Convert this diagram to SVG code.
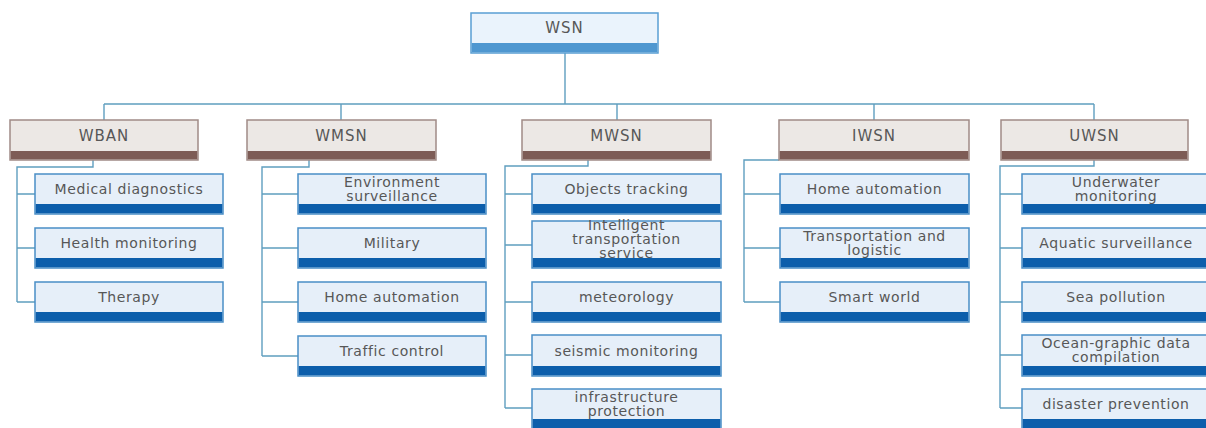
<svg xmlns="http://www.w3.org/2000/svg" width="1206" height="428" viewBox="0 0 1206 428">
  <style>
    text { font-family: "DejaVu Sans", Verdana, sans-serif; font-size: 14px; fill: #575757; text-anchor: middle; letter-spacing: 0.6px; }
    .t1 { font-size: 15px; letter-spacing: 1px; }
    .root-body { fill: #eaf3fc; stroke: #5a9fd4; stroke-width: 1.5; }
    .root-band { fill: #4f97d0; }
    .cat-body { fill: #ece8e5; stroke: #a08b86; stroke-width: 1.5; }
    .cat-band { fill: #7d5c56; }
    .leaf-body { fill: #e6eff9; stroke: #4a8fc6; stroke-width: 1.5; }
    .leaf-band { fill: #0c5eab; }
    .wire { fill: none; stroke: #5f9ebf; stroke-width: 1.4; }
  </style>

  <!-- connectors -->
  <g id="connectors">
    <path class="wire" d="M565 53 V104 M104 104 H1094 M104 104 V120 M341 104 V120 M617 104 V120 M874 104 V120 M1094 104 V120"/>
    <path class="wire" d="M93 160 V167 H17 V302 M17 194 H35 M17 248 H35 M17 302 H35"/>
    <path class="wire" d="M309 160 V167 H262 V356 M262 194 H298 M262 248 H298 M262 302 H298 M262 356 H298"/>
    <path class="wire" d="M588 160 V166 H505 V408 M505 194 H532 M505 245 H532 M505 302 H532 M505 355 H532 M505 408 H532"/>
    <path class="wire" d="M779 160 H744 V302 M744 194 H780 M744 248 H780 M744 302 H780"/>
    <path class="wire" d="M1094 160 V166 H1000 V408 M1000 194 H1022 M1000 248 H1022 M1000 302 H1022 M1000 355 H1022 M1000 408 H1022"/>
  </g>

  <!-- root -->
  <g id="wsn">
    <rect class="root-body" x="471" y="13" width="187" height="40"/>
    <rect class="root-band" x="471.75" y="43" width="185.5" height="9.25"/>
    <text class="t1" x="564.5" y="33">WSN</text>
  </g>

  <!-- categories -->
  <g id="wban">
    <rect class="cat-body" x="10" y="120" width="188" height="40"/>
    <rect class="cat-band" x="10.75" y="151" width="186.5" height="8.25"/>
    <text class="t1" x="104" y="141">WBAN</text>
  </g>
  <g id="wmsn">
    <rect class="cat-body" x="247" y="120" width="189" height="40"/>
    <rect class="cat-band" x="247.75" y="151" width="187.5" height="8.25"/>
    <text class="t1" x="341.5" y="141">WMSN</text>
  </g>
  <g id="mwsn">
    <rect class="cat-body" x="522" y="120" width="189" height="40"/>
    <rect class="cat-band" x="522.75" y="151" width="187.5" height="8.25"/>
    <text class="t1" x="616.5" y="141">MWSN</text>
  </g>
  <g id="iwsn">
    <rect class="cat-body" x="779" y="120" width="190" height="40"/>
    <rect class="cat-band" x="779.75" y="151" width="188.5" height="8.25"/>
    <text class="t1" x="874" y="141">IWSN</text>
  </g>
  <g id="uwsn">
    <rect class="cat-body" x="1001" y="120" width="187" height="40"/>
    <rect class="cat-band" x="1001.75" y="151" width="185.5" height="8.25"/>
    <text class="t1" x="1094.5" y="141">UWSN</text>
  </g>

  <!-- WBAN applications -->
  <g id="medical-diagnostics">
    <rect class="leaf-body" x="35" y="174" width="188" height="40"/>
    <rect class="leaf-band" x="35.75" y="204" width="186.5" height="9.25"/>
    <text x="129" y="194">Medical diagnostics</text>
  </g>
  <g id="health-monitoring">
    <rect class="leaf-body" x="35" y="228" width="188" height="40"/>
    <rect class="leaf-band" x="35.75" y="258" width="186.5" height="9.25"/>
    <text x="129" y="248">Health monitoring</text>
  </g>
  <g id="therapy">
    <rect class="leaf-body" x="35" y="282" width="188" height="40"/>
    <rect class="leaf-band" x="35.75" y="312" width="186.5" height="9.25"/>
    <text x="129" y="302">Therapy</text>
  </g>

  <!-- WMSN applications -->
  <g id="environment-surveillance">
    <rect class="leaf-body" x="298" y="174" width="188" height="40"/>
    <rect class="leaf-band" x="298.75" y="204" width="186.5" height="9.25"/>
    <text x="392" y="187">Environment</text>
    <text x="392" y="201">surveillance</text>
  </g>
  <g id="military">
    <rect class="leaf-body" x="298" y="228" width="188" height="40"/>
    <rect class="leaf-band" x="298.75" y="258" width="186.5" height="9.25"/>
    <text x="392" y="248">Military</text>
  </g>
  <g id="home-automation-wmsn">
    <rect class="leaf-body" x="298" y="282" width="188" height="40"/>
    <rect class="leaf-band" x="298.75" y="312" width="186.5" height="9.25"/>
    <text x="392" y="302">Home automation</text>
  </g>
  <g id="traffic-control">
    <rect class="leaf-body" x="298" y="336" width="188" height="40"/>
    <rect class="leaf-band" x="298.75" y="366" width="186.5" height="9.25"/>
    <text x="392" y="356">Traffic control</text>
  </g>

  <!-- MWSN applications -->
  <g id="objects-tracking">
    <rect class="leaf-body" x="532" y="174" width="189" height="40"/>
    <rect class="leaf-band" x="532.75" y="204" width="187.5" height="9.25"/>
    <text x="626.5" y="194">Objects tracking</text>
  </g>
  <g id="intelligent-transportation">
    <rect class="leaf-body" x="532" y="221" width="189" height="47"/>
    <rect class="leaf-band" x="532.75" y="258" width="187.5" height="9.25"/>
    <text x="626.5" y="230">Intelligent</text>
    <text x="626.5" y="244">transportation</text>
    <text x="626.5" y="258">service</text>
  </g>
  <g id="meteorology">
    <rect class="leaf-body" x="532" y="282" width="189" height="40"/>
    <rect class="leaf-band" x="532.75" y="312" width="187.5" height="9.25"/>
    <text x="626.5" y="302">meteorology</text>
  </g>
  <g id="seismic-monitoring">
    <rect class="leaf-body" x="532" y="335" width="189" height="41"/>
    <rect class="leaf-band" x="532.75" y="366" width="187.5" height="9.25"/>
    <text x="626.5" y="356">seismic monitoring</text>
  </g>
  <g id="infrastructure-protection">
    <rect class="leaf-body" x="532" y="389" width="189" height="40"/>
    <rect class="leaf-band" x="532.75" y="419" width="187.5" height="9.25"/>
    <text x="626.5" y="402">infrastructure</text>
    <text x="626.5" y="416">protection</text>
  </g>

  <!-- IWSN applications -->
  <g id="home-automation-iwsn">
    <rect class="leaf-body" x="780" y="174" width="189" height="40"/>
    <rect class="leaf-band" x="780.75" y="204" width="187.5" height="9.25"/>
    <text x="874.5" y="194">Home automation</text>
  </g>
  <g id="transportation-logistic">
    <rect class="leaf-body" x="780" y="228" width="189" height="40"/>
    <rect class="leaf-band" x="780.75" y="258" width="187.5" height="9.25"/>
    <text x="874.5" y="241">Transportation and</text>
    <text x="874.5" y="255">logistic</text>
  </g>
  <g id="smart-world">
    <rect class="leaf-body" x="780" y="282" width="189" height="40"/>
    <rect class="leaf-band" x="780.75" y="312" width="187.5" height="9.25"/>
    <text x="874.5" y="302">Smart world</text>
  </g>

  <!-- UWSN applications -->
  <g id="underwater-monitoring">
    <rect class="leaf-body" x="1022" y="174" width="188" height="40"/>
    <rect class="leaf-band" x="1022.75" y="204" width="186.5" height="9.25"/>
    <text x="1116" y="187">Underwater</text>
    <text x="1116" y="201">monitoring</text>
  </g>
  <g id="aquatic-surveillance">
    <rect class="leaf-body" x="1022" y="228" width="188" height="40"/>
    <rect class="leaf-band" x="1022.75" y="258" width="186.5" height="9.25"/>
    <text x="1116" y="248">Aquatic surveillance</text>
  </g>
  <g id="sea-pollution">
    <rect class="leaf-body" x="1022" y="282" width="188" height="40"/>
    <rect class="leaf-band" x="1022.75" y="312" width="186.5" height="9.25"/>
    <text x="1116" y="302">Sea pollution</text>
  </g>
  <g id="ocean-graphic">
    <rect class="leaf-body" x="1022" y="335" width="188" height="41"/>
    <rect class="leaf-band" x="1022.75" y="366" width="186.5" height="9.25"/>
    <text x="1116" y="348">Ocean-graphic data</text>
    <text x="1116" y="362">compilation</text>
  </g>
  <g id="disaster-prevention">
    <rect class="leaf-body" x="1022" y="389" width="188" height="40"/>
    <rect class="leaf-band" x="1022.75" y="419" width="186.5" height="9.25"/>
    <text x="1116" y="409">disaster prevention</text>
  </g>
</svg>
